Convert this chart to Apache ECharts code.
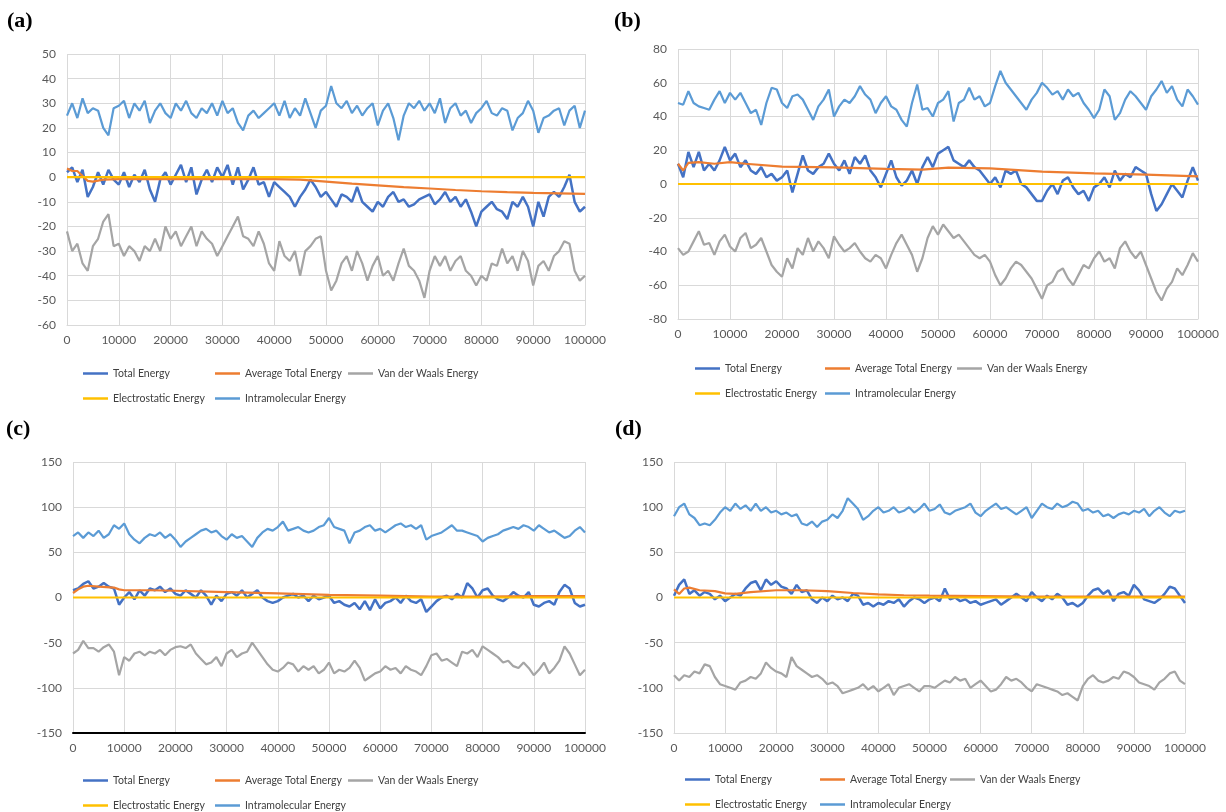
<!DOCTYPE html>
<html>
<head>
<meta charset="utf-8">
<script src="https://cdn.jsdelivr.net/npm/echarts@6/dist/echarts.min.js"></script>
<style>
html,body{margin:0;padding:0;background:#fff;}
#chart{width:1226px;height:812px;}
</style>
</head>
<body>
<div id="chart"></div>
<script>
// ---------- DATA ----------
const seriesNames = ['Total Energy','Average Total Energy','Van der Waals Energy','Electrostatic Energy','Intramolecular Energy'];
const panelLabels = ['(a)','(b)','(c)','(d)'];
// sample positions for the noisy series: every 1000 steps from 0 to 100000
const sampleX = Array.from({length:101},(_,i)=>i*1000);
const elecX = [0,100000];

// Panel (a)
const aTotal = [2,4,-2,3,-8,-4,2,-3,3,-1,-3,2,-4,1,-2,3,-5,-10,-1,2,-3,1,5,-2,4,-7,-1,3,-2,4,0,5,-3,4,-5,-1,4,-3,-2,-8,-2,-4,-6,-8,-12,-8,-5,-1,-4,-8,-6,-9,-12,-7,-8,-10,-4,-10,-12,-14,-10,-12,-8,-6,-10,-9,-12,-11,-9,-8,-7,-11,-9,-6,-10,-8,-12,-9,-14,-20,-14,-12,-10,-13,-14,-17,-10,-12,-8,-12,-20,-10,-16,-8,-6,-8,-4,1,-10,-14,-12];
const aAvgX = [0,1000,2000,3000,4000,5000,7000,10000,20000,30000,40000,45000,50000,55000,60000,65000,70000,75000,80000,85000,90000,95000,100000];
const aAvg = [3.5,2.5,2.5,0.5,-1.5,-1.8,-1,-0.8,-0.8,-0.7,-0.8,-1,-1.8,-2.6,-3.3,-4,-4.6,-5.2,-5.7,-6.1,-6.4,-6.6,-6.8];
const aVdw = [-22,-30,-27,-35,-38,-28,-25,-18,-15,-28,-27,-32,-28,-30,-34,-28,-30,-25,-30,-20,-25,-22,-28,-24,-20,-28,-22,-25,-27,-32,-28,-24,-20,-16,-24,-25,-28,-22,-27,-35,-38,-26,-32,-34,-30,-40,-30,-28,-25,-24,-38,-46,-42,-35,-32,-38,-30,-35,-42,-36,-32,-40,-38,-42,-35,-29,-36,-38,-42,-49,-38,-32,-36,-32,-38,-34,-32,-38,-40,-44,-40,-42,-35,-36,-29,-35,-32,-38,-30,-34,-44,-36,-34,-38,-32,-30,-26,-27,-38,-42,-40];
const aElec = [0,0];
const aIntra = [25,30,24,32,26,28,27,20,17,28,29,31,24,30,27,31,22,27,30,26,24,30,27,31,26,24,28,26,30,25,31,26,28,22,19,25,27,24,26,28,30,25,31,24,28,25,32,26,20,27,29,37,30,28,31,26,29,25,28,30,21,27,30,24,15,25,30,28,31,27,30,26,32,22,28,30,25,27,22,26,28,31,26,25,28,27,19,24,26,31,27,18,24,25,27,28,21,27,29,20,27];

// Panel (b)
const bTotal = [12,4,19,10,19,8,12,8,14,22,14,18,10,14,8,6,10,4,6,2,4,8,-5,6,17,8,6,10,12,18,12,8,14,6,16,12,17,8,4,-2,6,14,4,-1,2,8,0,10,16,10,18,20,22,14,12,10,14,10,8,4,0,4,-2,8,6,8,0,-2,-6,-10,-10,-4,0,-6,2,4,-2,-6,-4,-10,-2,0,4,-2,8,2,6,4,10,8,6,-6,-16,-12,-6,0,-4,-8,2,10,2];
const bAvgX = [0,1000,2000,4000,7000,10000,13000,20000,30000,40000,47000,52000,60000,70000,80000,90000,100000];
const bAvg = [12,8,12.5,13,12,13,12,10.3,9.9,9,8.5,9.7,9.3,7.3,6.3,5.5,4.5];
const bVdw = [-38,-42,-40,-34,-28,-36,-35,-42,-34,-30,-37,-40,-32,-29,-38,-36,-32,-40,-48,-52,-55,-44,-50,-38,-42,-32,-40,-34,-38,-44,-31,-36,-40,-38,-35,-40,-44,-46,-42,-44,-50,-42,-35,-30,-36,-42,-52,-44,-32,-25,-30,-24,-28,-32,-30,-34,-38,-42,-44,-42,-46,-54,-60,-56,-50,-46,-48,-52,-56,-62,-68,-60,-58,-52,-50,-56,-60,-54,-48,-50,-44,-40,-46,-44,-50,-38,-34,-40,-44,-40,-48,-56,-64,-69,-62,-58,-50,-54,-48,-41,-46];
const bElec = [0,0];
const bIntra = [48,47,55,48,46,45,44,50,55,48,54,50,54,48,42,44,35,48,57,56,48,45,52,53,50,44,38,46,50,56,40,46,50,48,52,58,53,50,42,48,52,46,44,38,34,48,59,44,45,40,48,50,55,37,48,50,57,50,52,46,48,58,67,60,56,52,48,44,50,54,60,57,53,55,50,56,52,54,48,44,39,44,56,52,38,42,50,55,52,48,44,52,56,61,54,58,50,46,56,52,47];

// Panel (c)
const cTotal = [8,10,15,18,10,12,16,12,10,-8,0,6,-2,8,2,10,8,12,6,10,4,2,8,4,0,8,2,-8,2,-4,4,6,2,8,0,4,8,0,-4,-6,-4,0,2,4,0,2,-4,2,-2,0,2,-6,-4,-8,-10,-6,-13,-4,-14,-2,-12,-6,-4,0,-6,2,-4,-6,-2,-16,-10,-4,0,2,-2,4,0,16,10,0,8,10,2,-2,-4,0,6,2,0,6,-8,-10,-6,-4,-8,6,14,10,-6,-10,-8];
const cAvgX = [0,1000,2000,3000,5000,8000,9000,10000,15000,20000,30000,40000,50000,60000,70000,80000,90000,100000];
const cAvg = [5,9,12,13,12,11,9,8,8,7.5,6,4.5,3,2,1,1,1.5,1.5];
const cVdw = [-62,-58,-48,-56,-56,-60,-55,-52,-60,-86,-66,-70,-62,-60,-64,-60,-62,-58,-64,-58,-55,-54,-56,-52,-62,-68,-74,-72,-66,-76,-62,-58,-66,-62,-60,-50,-58,-66,-74,-80,-82,-78,-72,-74,-82,-76,-80,-76,-84,-80,-72,-84,-80,-82,-78,-70,-78,-92,-88,-84,-82,-76,-80,-78,-84,-76,-80,-82,-86,-76,-64,-62,-70,-68,-72,-76,-60,-62,-58,-66,-54,-58,-62,-66,-72,-70,-76,-78,-72,-78,-86,-80,-72,-84,-78,-70,-54,-62,-74,-86,-80];
const cElec = [0,0];
const cIntra = [68,72,66,72,68,74,66,70,80,76,82,70,64,60,66,70,68,72,66,70,64,56,62,66,70,74,76,72,74,68,64,70,66,68,62,56,66,72,76,74,78,84,74,76,78,74,72,74,78,80,88,78,76,74,60,72,74,78,80,74,76,72,76,80,82,78,80,76,80,64,68,70,72,76,80,74,74,72,70,68,62,66,68,70,74,76,78,76,80,78,74,80,76,72,74,70,66,68,74,78,72];

// Panel (d)
const dTotal = [2,14,20,4,8,2,6,4,-2,2,-4,0,4,2,10,16,18,8,20,14,18,12,10,4,14,6,8,-2,-6,0,-4,2,-2,0,-4,4,2,-8,-6,-10,-6,-8,-4,-6,-2,-10,-4,0,-2,-6,-2,0,-4,10,-2,0,-4,-2,-6,-4,-8,-6,-4,-2,-8,-4,0,4,0,-4,6,0,-4,2,-2,4,0,-8,-6,-10,-6,2,8,10,4,8,-4,4,6,2,14,8,-2,-4,-6,-2,4,12,10,2,-6];
const dAvgX = [0,1000,2000,3000,5000,8000,10000,12000,15000,20000,25000,30000,35000,40000,45000,50000,60000,70000,80000,90000,100000];
const dAvg = [9,4,10,11,8,7,4.5,4,6,8,8,7,5,3.5,2.5,2,1.5,1,1,1,1];
const dVdw = [-86,-92,-86,-88,-82,-84,-74,-76,-88,-96,-98,-100,-102,-94,-92,-88,-90,-84,-72,-78,-82,-84,-88,-66,-76,-80,-84,-88,-86,-90,-96,-94,-98,-106,-104,-102,-100,-96,-102,-98,-104,-100,-96,-108,-100,-98,-96,-100,-104,-98,-98,-100,-96,-92,-94,-88,-92,-90,-100,-96,-92,-98,-104,-102,-96,-88,-92,-90,-94,-100,-104,-96,-98,-100,-102,-104,-108,-106,-110,-114,-98,-90,-86,-92,-94,-92,-88,-90,-82,-84,-88,-94,-96,-98,-102,-94,-90,-84,-82,-92,-96];
const dElec = [0,0];
const dIntra = [90,100,104,92,88,80,82,80,86,94,100,96,104,98,102,96,104,96,100,94,96,92,94,90,92,82,80,84,78,84,86,92,88,96,110,104,98,86,90,96,100,94,96,100,94,96,100,94,98,104,96,98,103,94,92,96,98,100,104,94,90,96,100,104,98,100,96,92,96,100,88,96,104,100,98,104,100,102,106,104,96,98,94,96,90,92,88,92,94,92,96,94,98,90,96,100,94,90,96,94,96];

const xTicks = {min:0, max:100000, interval:10000};
const yRanges = [
  {min:-60, max:50, interval:10},
  {min:-80, max:80, interval:20},
  {min:-150, max:150, interval:50},
  {min:-150, max:150, interval:50}
];

// ---------- LAYOUT / STYLE ----------
const colors = ['#4472C4','#ED7D31','#A5A5A5','#FFC000','#5B9BD5'];
const grids = [
  {left:67, right:641, top:54, bottom:487},
  {left:678, right:28, top:49, bottom:493},
  {left:73, right:641, top:462, bottom:79},
  {left:674, right:41, top:462, bottom:79}
];
const labelPos = [[7,10],[614,10],[6,418],[615,418]];
// legend item left positions (row 1: 3 items, row 2: 2 items) and row tops
const legendLayout = [
  {x:[83,215,348], top1:368, top2:393},
  {x:[695,825,957], top1:363, top2:388},
  {x:[83,215,348], top1:775, top2:800},
  {x:[685,820,950], top1:774, top2:799}
];

const panels = [
  {total:aTotal, avgX:aAvgX, avg:aAvg, vdw:aVdw, elec:aElec, intra:aIntra},
  {total:bTotal, avgX:bAvgX, avg:bAvg, vdw:bVdw, elec:bElec, intra:bIntra},
  {total:cTotal, avgX:cAvgX, avg:cAvg, vdw:cVdw, elec:cElec, intra:cIntra},
  {total:dTotal, avgX:dAvgX, avg:dAvg, vdw:dVdw, elec:dElec, intra:dIntra}
];

const pair = (xs, ys) => ys.map((y,i)=>[xs[i], y]);
const tickFont = {fontFamily:'Lato', fontSize:12, color:'#595959'};
const gridLine = {lineStyle:{color:'#D9D9D9', width:1}};

const option = {
  animation:false,
  backgroundColor:'#fff',
  grid: grids.map(g=>Object.assign({containLabel:false}, g)),
  xAxis: grids.map((g,i)=>({
    type:'value', gridIndex:i, min:xTicks.min, max:xTicks.max, interval:xTicks.interval,
    axisLine:{show:true, onZero:false, lineStyle:{color: i===2 ? '#000' : '#D9D9D9', width: i===2 ? 2 : 1}},
    axisTick:{show:false},
    splitLine:Object.assign({show:true}, gridLine),
    axisLabel:Object.assign({margin:9, formatter:(v)=>String(v)}, tickFont)
  })),
  yAxis: grids.map((g,i)=>({
    type:'value', gridIndex:i, min:yRanges[i].min, max:yRanges[i].max, interval:yRanges[i].interval,
    axisLine:{show:false}, axisTick:{show:false},
    splitLine:Object.assign({show:true}, gridLine),
    axisLabel:Object.assign({margin:11, formatter:(v)=>String(v)}, tickFont)
  })),
  legend: [],
  series: [],
  graphic: panelLabels.map((t,i)=>({
    type:'text', left:labelPos[i][0], top:labelPos[i][1],
    style:{text:t, font:'bold 22px "Liberation Serif", "DejaVu Serif", serif', fill:'#000'}
  }))
};

panels.forEach((p,i)=>{
  const defs = [
    {name:seriesNames[0], data:pair(sampleX, p.total), w:2.5},
    {name:seriesNames[1], data:pair(p.avgX, p.avg), w:2.2},
    {name:seriesNames[2], data:pair(sampleX, p.vdw), w:2.2},
    {name:seriesNames[3], data:pair(elecX, p.elec), w:2.2},
    {name:seriesNames[4], data:pair(sampleX, p.intra), w:2.2}
  ];
  defs.forEach((d,k)=>{
    option.series.push({
      type:'line', name:d.name, xAxisIndex:i, yAxisIndex:i,
      data:d.data, showSymbol:false, symbol:'none', smooth:false,
      color:colors[k], lineStyle:{color:colors[k], width:d.w},
      emphasis:{disabled:true}
    });
  });
  const L = legendLayout[i];
  const legBase = {
    orient:'horizontal', icon:'rect', itemWidth:25, itemHeight:2.5,
    textStyle:{fontFamily:'Lato', fontSize:10.5, color:'#404040'},
    padding:0, selectedMode:false
  };
  const slots = [[L.x[0],L.top1],[L.x[1],L.top1],[L.x[2],L.top1],[L.x[0],L.top2],[L.x[1],L.top2]];
  seriesNames.forEach((nm,k)=>{
    option.legend.push(Object.assign({}, legBase, {left:slots[k][0], top:slots[k][1], data:[nm]}));
  });
});

const chart = echarts.init(document.getElementById('chart'), null, {renderer:'canvas'});
chart.setOption(option);
</script>
</body>
</html>
